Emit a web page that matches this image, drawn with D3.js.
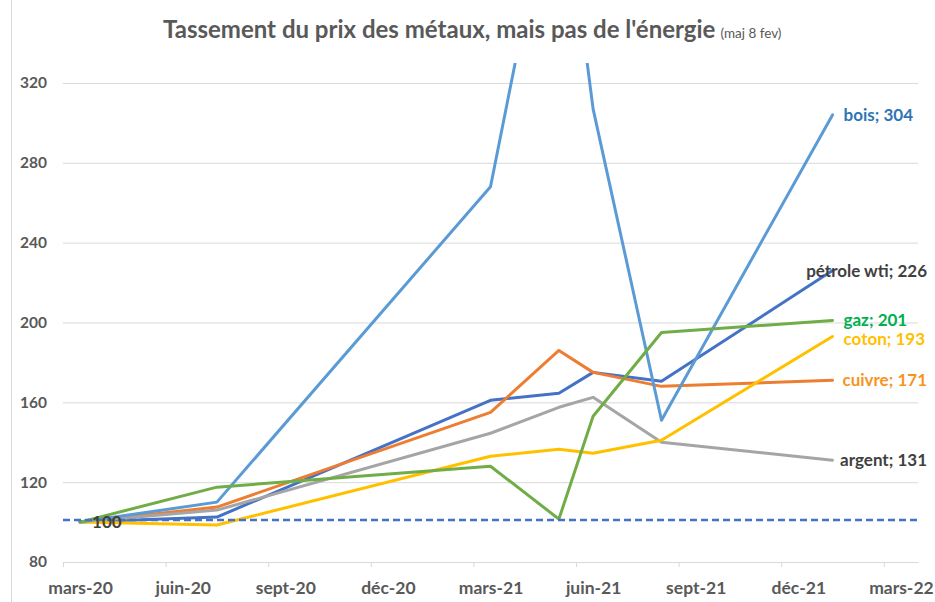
<!DOCTYPE html>
<html>
<head>
<meta charset="utf-8">
<script src="https://cdn.jsdelivr.net/npm/d3@7/dist/d3.min.js"></script>
<style>
body { margin: 0; background: #fff; }
text { font-family: Lato, "Open Sans", sans-serif; font-weight: 700; }
</style>
</head>
<body>
<script>
// months of the observations (yyyy-mm), index 100 = mars 2020
var months  = ["2020-03", "2020-07", "2021-03", "2021-05", "2021-06", "2021-08", "2022-01"];
var petrole = [100, 102.5, 161, 164.5, 175, 170.5, 226];
var cuivre  = [100, 107.5, 155, 186, 175, 168, 171];
var argent  = [100, 106, 144.5, 157.5, 162.5, 140, 131];
var coton   = [100, 98.5, 133, 136.5, 134.5, 141, 193];
var bois    = [100, 110, 268, 440, 307, 151, 304];
var gaz     = [100, 117.5, 128, 101.5, 153, 195, 201];

var seriesNames = ["pétrole wti", "cuivre", "argent", "coton", "bois", "gaz"];
var seriesValues = [petrole, cuivre, argent, coton, bois, gaz];

var xTickLabels = ["mars-20", "juin-20", "sept-20", "déc-20", "mars-21", "juin-21", "sept-21", "déc-21", "mars-22"];
var yTickValues = [80, 120, 160, 200, 240, 280, 320];
var refLevel = 101;
var firstLabel = "100";

var lineColors  = ["#4472C4", "#ED7D31", "#A5A5A5", "#FFC000", "#5B9BD5", "#70AD47"];
var labelColors = ["#404040", "#F7941D", "#404040", "#FFC000", "#2E75B6", "#00B050"];

var width = 935, height = 602;
var plotLeft = 63, plotRight = 918, plotTop = 63, plotBottom = 562;
var nMonths = 25; // mars-20 .. mars-22

function monthIndex(s) {
  var p = s.split("-");
  return (+p[0] - 2020) * 12 + (+p[1] - 3);
}

var svg = d3.select("body").append("svg")
  .attr("width", width)
  .attr("height", height);

var x = d3.scaleLinear().domain([0, nMonths]).range([plotLeft, plotRight]);
var y = d3.scaleLinear().domain([80, 330]).range([plotBottom, plotTop]);

// left border of the chart frame
svg.append("line")
  .attr("x1", 11.5).attr("x2", 11.5)
  .attr("y1", 0).attr("y2", height)
  .attr("stroke", "#d9d9d9");

// title
var title = svg.append("text")
  .attr("x", 163)
  .attr("y", 38)
  .attr("fill", "#595959")
  .style("font-size", "24px");
title.append("tspan").text("Tassement du prix des métaux, mais pas de l'énergie");
title.append("tspan")
  .attr("dx", 5)
  .style("font-size", "13.5px")
  .style("font-weight", 400)
  .text("(maj 8 fev)");

// gridlines
svg.append("g")
  .attr("transform", "translate(" + plotLeft + ",0)")
  .call(d3.axisLeft(y).tickValues(yTickValues).tickSize(-(plotRight - plotLeft)).tickFormat(""))
  .call(function(g) { g.select(".domain").remove(); })
  .selectAll("line")
  .attr("stroke", "#d9d9d9");

// y axis labels
var yAxis = svg.append("g")
  .attr("transform", "translate(" + plotLeft + ",0)")
  .call(d3.axisLeft(y).tickValues(yTickValues).tickSize(0).tickPadding(16));
yAxis.select(".domain").remove();
yAxis.selectAll("text")
  .attr("fill", "#595959")
  .style("font-size", "15.5px")
  .style("font-family", "Lato, sans-serif")
  .style("font-weight", 700);

// x axis: ticks every 3 months, labels centred in the month slot
var halfSlot = x(0.5) - x(0);
var xAxis = svg.append("g")
  .attr("transform", "translate(0," + plotBottom + ")")
  .call(d3.axisBottom(x)
    .tickValues(d3.range(0, nMonths, 3))
    .tickSize(5)
    .tickSizeOuter(0)
    .tickFormat(function(d, i) { return xTickLabels[i]; }));
xAxis.select(".domain").attr("stroke", "#d9d9d9");
xAxis.selectAll("line").attr("stroke", "#d9d9d9");
xAxis.selectAll("text")
  .attr("x", halfSlot)
  .attr("y", 32)
  .attr("dy", 0)
  .attr("fill", "#595959")
  .style("font-size", "17.5px")
  .style("font-family", "Lato, sans-serif")
  .style("font-weight", 700);

// clip for the lumber spike
svg.append("clipPath").attr("id", "plot")
  .append("rect")
  .attr("x", 0).attr("y", plotTop)
  .attr("width", width).attr("height", plotBottom - plotTop + 10);

var line = d3.line()
  .x(function(d, i) { return x(monthIndex(months[i]) + 0.5); })
  .y(function(d) { return y(d); });

svg.append("g")
  .attr("clip-path", "url(#plot)")
  .selectAll("path")
  .data(seriesValues)
  .enter().append("path")
  .attr("d", line)
  .attr("fill", "none")
  .attr("stroke", function(d, i) { return lineColors[i]; })
  .attr("stroke-width", 3)
  .attr("stroke-linejoin", "round")
  .attr("stroke-linecap", "round");

// reference line at base level
svg.append("line")
  .attr("x1", x(0)).attr("x2", x(nMonths))
  .attr("y1", y(refLevel)).attr("y2", y(refLevel))
  .attr("stroke", "#4472C4")
  .attr("stroke-width", 2.5)
  .attr("stroke-dasharray", "7,4");

// first point label
svg.append("text")
  .attr("x", x(0.5) + 12)
  .attr("y", y(100))
  .attr("dy", "0.35em")
  .attr("fill", "#404040")
  .style("font-size", "17px")
  .text(firstLabel);

// end labels: right of the last point, pushed back inside the frame
var last = months.length - 1;
var labelMax = 927;
var labelGap = 19;
var endLabels = svg.append("g")
  .selectAll("text")
  .data(seriesValues)
  .enter().append("text")
  .attr("x", x(monthIndex(months[last]) + 0.5) + 11)
  .attr("y", function(d) { return y(d[last]); })
  .attr("dy", "0.35em")
  .attr("fill", function(d, i) { return labelColors[i]; })
  .style("font-size", "17px")
  .text(function(d, i) { return seriesNames[i] + "; " + d[last]; })
  .each(function() {
    var w = this.getComputedTextLength();
    var x0 = +this.getAttribute("x");
    if (x0 + w > labelMax) this.setAttribute("x", labelMax - w);
  });

// nudge labels that sit too close vertically
var sorted = endLabels.nodes().sort(function(a, b) { return +a.getAttribute("y") - +b.getAttribute("y"); });
for (var k = 1; k < sorted.length; k++) {
  var prevY = +sorted[k - 1].getAttribute("y");
  var curY = +sorted[k].getAttribute("y");
  if (curY - prevY < labelGap) sorted[k].setAttribute("y", prevY + labelGap);
}
</script>
</body>
</html>
